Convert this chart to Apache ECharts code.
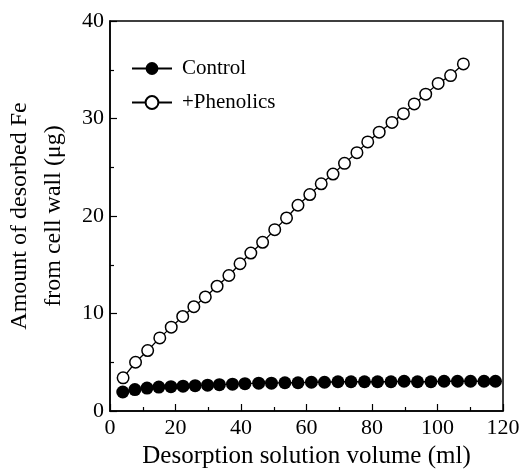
<!DOCTYPE html>
<html>
<head>
<meta charset="utf-8">
<script src="https://cdn.jsdelivr.net/npm/echarts@6/dist/echarts.min.js"></script>
<style>
  html, body { margin: 0; padding: 0; background: #fff; }
  #chart { width: 521px; height: 472px; }
</style>
</head>
<body>
<div id="chart"></div>
<script>
// desorption volume (ml) and desorbed Fe (μg)
const controlX = [3.9, 7.6, 11.3, 14.9, 18.6, 22.3, 26.0, 29.8, 33.4, 37.4,
  41.2, 45.4, 49.3, 53.4, 57.4, 61.5, 65.5, 69.6, 73.6, 77.7,
  81.7, 85.8, 89.8, 93.9, 98.0, 102.0, 106.1, 110.1, 114.2, 117.7]
const controlY = [1.95, 2.2, 2.35, 2.45, 2.5, 2.55, 2.6, 2.65, 2.7, 2.75,
  2.8, 2.85, 2.85, 2.9, 2.9, 2.95, 2.95, 3.0, 3.0, 3.0,
  3.0, 3.0, 3.05, 3.0, 3.0, 3.05, 3.05, 3.05, 3.05, 3.05]
const phenX = [4.0, 7.8, 11.5, 15.2, 18.7, 22.2, 25.6, 29.1, 32.7, 36.3,
  39.7, 43.0, 46.6, 50.3, 53.9, 57.4, 61.0, 64.5, 68.1, 71.6,
  75.4, 78.7, 82.2, 86.1, 89.6, 92.9, 96.4, 100.2, 104.0, 107.9]
const phenY = [3.4, 5.0, 6.2, 7.5, 8.6, 9.7, 10.7, 11.7, 12.8, 13.9,
  15.1, 16.2, 17.3, 18.6, 19.8, 21.1, 22.2, 23.3, 24.3, 25.4,
  26.5, 27.6, 28.6, 29.6, 30.5, 31.5, 32.5, 33.6, 34.4, 35.6]

const seriesNames = ['Control', '+Phenolics']
const xTitle = 'Desorption solution volume (ml)'
const yTitle = 'Amount of desorbed Fe\nfrom cell wall (μg)'

const font = 'Liberation Serif'

let pairs = (xs, ys) => xs.map((x, i) => [x, ys[i]])

let chartInstance = echarts.init(document.getElementById('chart'))
const option = {
  animation: false,
  textStyle: { fontFamily: font, color: '#000' },
  grid: {
    left: 110, right: 18, top: 21, bottom: 61,
    outerBoundsMode: 'none',
    containLabel: false,
    show: true,
    borderColor: '#000',
    borderWidth: 1.5
  },
  legend: {
    data: seriesNames,
    orient: 'vertical',
    left: 131,
    top: 58,
    padding: 0,
    itemWidth: 40,
    itemHeight: 16,
    itemGap: 13,
    textStyle: { fontFamily: font, fontSize: 21, color: '#000', lineHeight: 21, padding: [0, 0, 0, 5] }
  },
  xAxis: {
    type: 'value',
    min: 0,
    max: 120,
    interval: 20,
    name: xTitle,
    nameLocation: 'middle',
    nameGap: 30,
    nameTextStyle: { fontFamily: font, fontSize: 25, color: '#000' },
    axisLine: { lineStyle: { color: '#000', width: 1.5 } },
    axisTick: { inside: true, length: 7, lineStyle: { color: '#000', width: 1.2 } },
    minorTick: { show: true, splitNumber: 2, length: 4, lineStyle: { color: '#000', width: 1.2 } },
    axisLabel: { fontFamily: font, fontSize: 22, color: '#000', margin: 6 },
    splitLine: { show: false }
  },
  yAxis: {
    type: 'value',
    min: 0,
    max: 40,
    interval: 10,
    name: yTitle,
    nameLocation: 'middle',
    nameRotate: 90,
    nameGap: 34,
    nameTextStyle: { fontFamily: font, fontSize: 24, color: '#000', lineHeight: 34 },
    axisLine: { lineStyle: { color: '#000', width: 1.5 } },
    axisTick: { inside: true, length: 7, lineStyle: { color: '#000', width: 1.2 } },
    minorTick: { show: true, splitNumber: 2, length: 4, lineStyle: { color: '#000', width: 1.2 } },
    axisLabel: { fontFamily: font, fontSize: 22, color: '#000', margin: 6 },
    splitLine: { show: false }
  },
  series: [
    {
      name: 'Control',
      type: 'line',
      data: pairs(controlX, controlY),
      symbol: 'circle',
      symbolSize: 13,
      showAllSymbol: true,
      lineStyle: { color: '#000', width: 1.3 },
      itemStyle: { color: '#000' }
    },
    {
      name: '+Phenolics',
      type: 'line',
      data: pairs(phenX, phenY),
      symbol: 'circle',
      symbolSize: 11.5,
      showAllSymbol: true,
      lineStyle: { color: '#000', width: 1.3 },
      itemStyle: { color: '#fff', borderColor: '#000', borderWidth: 1.5 }
    }
  ]
}
chartInstance.setOption(option)
</script>
</body>
</html>
